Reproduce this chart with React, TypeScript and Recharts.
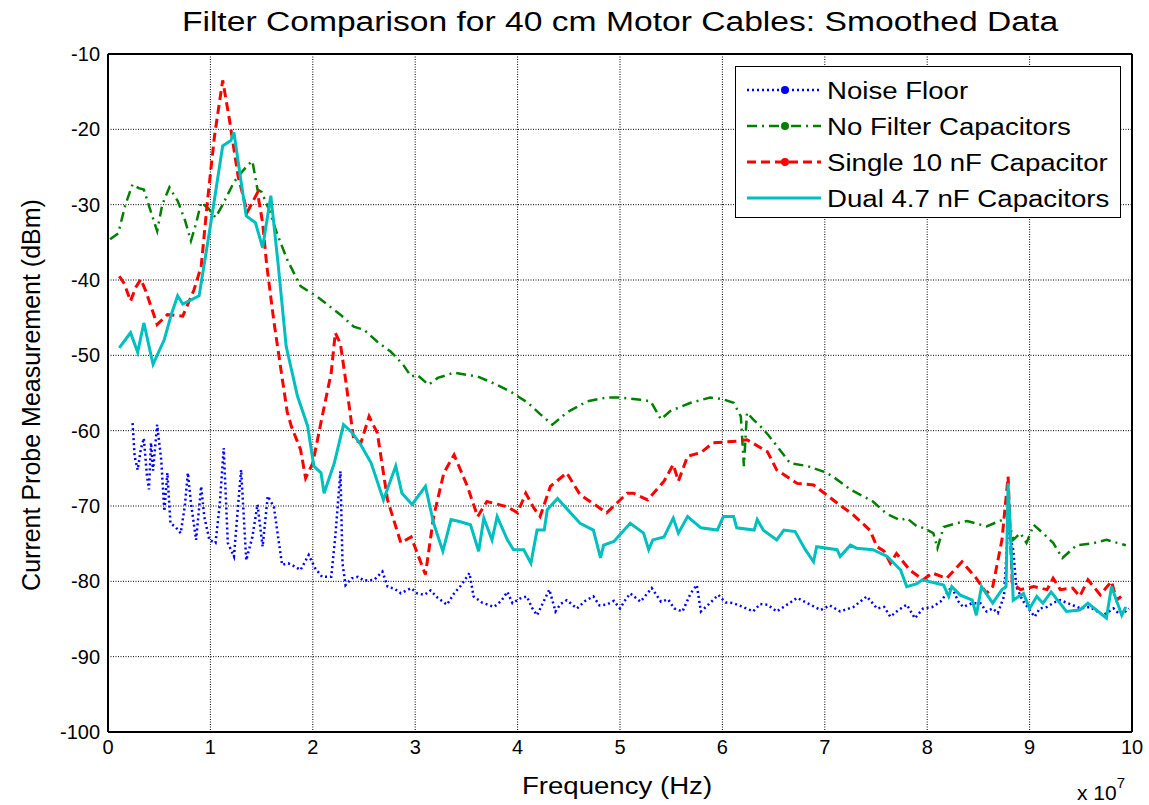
import { LineChart, Line, XAxis, YAxis, CartesianGrid, ReferenceLine } from 'recharts';

// Frequency in units of 1e7 Hz, level in dBm
const noiseFloor: [number, number][] = [
  [0.24, -59], [0.26, -63.4], [0.29, -65.2], [0.32, -62.5], [0.35, -61], [0.38, -66], [0.4, -67.8],
  [0.42, -61.6], [0.44, -65.3], [0.48, -59.2], [0.52, -63.9], [0.55, -70.7], [0.58, -65.6], [0.61, -72.3],
  [0.66, -72.8], [0.71, -73.6], [0.75, -70], [0.78, -65.6], [0.81, -69.6], [0.86, -74.5], [0.91, -67.4],
  [0.94, -71.4], [0.99, -74.5], [1.05, -74.9], [1.09, -70], [1.13, -62.3], [1.17, -74.9], [1.23, -76.7],
  [1.27, -70], [1.3, -65.2], [1.35, -77.2], [1.41, -74.1], [1.46, -69.8], [1.51, -75.4], [1.56, -68.7],
  [1.62, -70.1], [1.66, -74], [1.7, -77.8], [1.76, -77.6], [1.82, -78], [1.88, -78.5], [1.96, -76.5],
  [2.02, -78.2], [2.09, -79.4], [2.18, -79.4], [2.22, -74], [2.27, -65.4], [2.29, -77.6], [2.32, -80.5],
  [2.38, -79.6], [2.44, -79.4], [2.5, -79.9], [2.6, -79.8], [2.68, -78.7], [2.73, -80.7], [2.8, -81],
  [2.86, -81.6], [2.96, -80.9], [3.02, -81.6], [3.09, -81.8], [3.15, -81.2], [3.22, -82.2], [3.31, -83.1],
  [3.38, -81.6], [3.45, -80.5], [3.53, -78.9], [3.57, -82], [3.65, -82.8], [3.77, -83.4], [3.84, -82.6],
  [3.9, -81.4], [3.95, -82.9], [4.02, -82.3], [4.09, -82], [4.14, -83.5], [4.19, -84.5], [4.25, -82.8],
  [4.31, -81.1], [4.37, -84], [4.42, -83], [4.48, -82.5], [4.58, -83.6], [4.66, -82.6], [4.74, -82],
  [4.8, -83.2], [4.87, -83.1], [4.94, -82.6], [5.0, -83.6], [5.05, -82.5], [5.1, -81.6], [5.2, -82.7],
  [5.31, -80.9], [5.4, -82.7], [5.47, -82.4], [5.53, -83.6], [5.61, -84], [5.69, -81.6], [5.75, -80.5],
  [5.79, -84], [5.87, -83], [5.96, -81.8], [6.03, -82.8], [6.11, -82.9], [6.2, -83.4], [6.3, -84],
  [6.37, -83], [6.44, -83.1], [6.53, -84], [6.62, -83.2], [6.73, -82.2], [6.83, -82.9], [6.96, -83.8],
  [7.05, -83.2], [7.15, -84], [7.28, -83.4], [7.41, -82], [7.51, -83.6], [7.58, -83.4], [7.64, -84.7],
  [7.72, -83.8], [7.8, -83.1], [7.88, -84.9], [7.96, -83.6], [8.05, -83.4], [8.13, -82.7], [8.24, -80.7],
  [8.3, -82.6], [8.35, -83.4], [8.44, -82.9], [8.52, -82.9], [8.58, -84], [8.64, -83.6], [8.69, -84.2],
  [8.75, -82], [8.79, -72.7], [8.84, -75.8], [8.87, -80.7], [8.93, -82.5], [9.0, -83.8], [9.05, -84.7],
  [9.1, -83.6], [9.17, -83.4], [9.24, -82.8], [9.3, -82.5], [9.41, -83.1], [9.5, -83.6], [9.59, -83.4],
  [9.66, -84], [9.72, -84.5], [9.82, -83.6], [9.88, -84.4], [9.92, -84.2], [9.97, -83.6],
];

const noFilter: [number, number][] = [
  [0.02, -34.6], [0.1, -33.8], [0.17, -30], [0.24, -27.3], [0.3, -27.8], [0.35, -28], [0.42, -31],
  [0.48, -33.5], [0.53, -30], [0.6, -27.7], [0.68, -29.5], [0.75, -32], [0.81, -34.8], [0.86, -32.5],
  [0.91, -29.7], [0.98, -30.5], [1.05, -31.7], [1.12, -30], [1.23, -27], [1.3, -25.8], [1.36, -24.8],
  [1.41, -24.2], [1.46, -28], [1.5, -28.3], [1.57, -30.6], [1.65, -33.8], [1.75, -37.3], [1.88, -40.8],
  [2.05, -42.3], [2.27, -44.6], [2.4, -46.2], [2.5, -46.6], [2.63, -48.2], [2.76, -49.5], [2.88, -51.2],
  [2.96, -52.8], [3.02, -52.6], [3.13, -53.9], [3.22, -53], [3.38, -52.3], [3.5, -52.6], [3.61, -52.8],
  [3.78, -53.8], [3.93, -54.8], [4.1, -56.3], [4.22, -57.8], [4.34, -59.2], [4.48, -57.6], [4.68, -56.1],
  [4.87, -55.6], [5.0, -55.6], [5.2, -55.9], [5.3, -56.1], [5.4, -58.5], [5.49, -57.4], [5.69, -56.3],
  [5.88, -55.6], [6.0, -55.8], [6.11, -56.3], [6.18, -58.1], [6.21, -64.7], [6.24, -57.6], [6.3, -58.5],
  [6.37, -59.4], [6.45, -60.6], [6.53, -62], [6.66, -64.3], [6.83, -64.7], [7.02, -65.6], [7.1, -66.3],
  [7.25, -67.8], [7.47, -69.4], [7.6, -71], [7.74, -71.9], [7.8, -71.6], [7.9, -72.7], [7.96, -72.9],
  [8.06, -73.6], [8.1, -75.6], [8.16, -72.8], [8.28, -72.3], [8.39, -72], [8.58, -72.7], [8.74, -71.8],
  [8.79, -71.5], [8.84, -74.5], [8.91, -73.6], [8.97, -74.9], [9.04, -72.5], [9.13, -73.6], [9.23, -74.9],
  [9.32, -76.9], [9.46, -75.2], [9.6, -75], [9.75, -74.5], [9.94, -75.2],
];

const single10nF: [number, number][] = [
  [0.11, -39.5], [0.16, -40.5], [0.22, -42.8], [0.27, -41], [0.32, -39.9], [0.37, -41.5], [0.42, -43.5],
  [0.48, -45.9], [0.58, -44.6], [0.73, -44.8], [0.84, -41.3], [0.91, -38.2], [0.97, -29.7], [1.04, -20.9],
  [1.12, -13.5], [1.18, -18.2], [1.27, -26.2], [1.36, -31], [1.46, -28.4], [1.51, -32.4], [1.55, -38],
  [1.62, -45.5], [1.69, -52], [1.75, -57.5], [1.79, -59.4], [1.88, -62.5], [1.93, -66.3], [2.0, -64.3],
  [2.08, -58.9], [2.18, -52.3], [2.22, -47], [2.27, -48.5], [2.32, -53.2], [2.4, -61.2], [2.47, -61.6],
  [2.55, -58.1], [2.63, -60.3], [2.73, -69.2], [2.86, -74.9], [2.96, -74.1], [3.1, -79.1], [3.18, -71.4],
  [3.28, -65.6], [3.38, -63.2], [3.51, -67.4], [3.61, -71.4], [3.7, -69.4], [3.9, -70.1], [4.0, -70.9],
  [4.08, -68.3], [4.16, -70.3], [4.22, -71.4], [4.32, -67.4], [4.48, -65.6], [4.61, -68.5], [4.87, -70.9],
  [4.97, -69.6], [5.07, -68.3], [5.13, -68.3], [5.27, -69.2], [5.43, -66.7], [5.52, -64.5], [5.57, -66.7],
  [5.66, -63.4], [5.79, -62.9], [5.91, -61.6], [6.14, -61.4], [6.24, -61.2], [6.44, -62.8], [6.53, -65.2],
  [6.73, -67], [6.89, -67.2], [7.12, -69.6], [7.28, -71.2], [7.44, -73.2], [7.51, -75.4], [7.58, -76],
  [7.64, -77.6], [7.7, -76.3], [7.83, -78.5], [7.96, -79.8], [8.05, -78.9], [8.19, -79.6], [8.34, -77.4],
  [8.48, -79.6], [8.58, -81.6], [8.64, -80.7], [8.73, -74.5], [8.79, -66.1], [8.83, -80.2], [8.91, -81.1],
  [9.04, -80.7], [9.17, -81.1], [9.23, -79.6], [9.3, -81.1], [9.42, -80.9], [9.49, -82], [9.57, -79.8],
  [9.69, -81.8], [9.8, -80], [9.85, -82.5], [9.93, -81.6],
];

const dual47nF: [number, number][] = [
  [0.11, -49], [0.22, -47], [0.29, -49.6], [0.35, -45.7], [0.44, -51.2], [0.55, -47.9], [0.62, -44.5],
  [0.68, -42.1], [0.73, -43.2], [0.89, -42.1], [1.0, -32.8], [1.12, -22.2], [1.2, -21.5], [1.23, -20.4],
  [1.3, -27], [1.35, -31.5], [1.44, -32.4], [1.51, -35.7], [1.59, -28.8], [1.66, -37.7], [1.74, -48.8],
  [1.85, -55.4], [1.95, -59.4], [2.01, -64.7], [2.08, -65.6], [2.11, -68.3], [2.21, -64.3], [2.3, -59.2],
  [2.38, -60.2], [2.47, -61.9], [2.57, -64.3], [2.69, -69.2], [2.81, -64.7], [2.87, -68.3], [2.97, -69.8],
  [3.1, -67.4], [3.18, -72.3], [3.27, -76], [3.35, -71.8], [3.44, -72.1], [3.54, -72.5], [3.62, -76],
  [3.67, -71.6], [3.75, -74.5], [3.8, -71.4], [3.9, -74.5], [3.96, -75.8], [4.06, -75.8], [4.13, -77.6],
  [4.19, -73.2], [4.26, -73.2], [4.29, -70.5], [4.39, -69], [4.61, -72.3], [4.74, -73.2], [4.81, -76.9],
  [4.84, -75.2], [4.94, -74.7], [5.1, -72.3], [5.23, -73.6], [5.28, -75.8], [5.32, -74.5], [5.43, -74.1],
  [5.52, -71.6], [5.57, -73.6], [5.66, -71.4], [5.79, -72.9], [5.95, -73.2], [6.01, -71.4], [6.11, -71.4],
  [6.14, -72.9], [6.31, -73.2], [6.34, -71.8], [6.4, -73.2], [6.53, -74.5], [6.6, -73.2], [6.71, -73.4],
  [6.81, -75.8], [6.89, -77.4], [6.92, -75.4], [7.12, -75.8], [7.15, -76.7], [7.25, -75.2], [7.31, -75.6],
  [7.47, -75.8], [7.61, -76.7], [7.74, -78.5], [7.8, -80.7], [7.9, -80.3], [7.95, -79.8], [8.16, -80.5],
  [8.21, -82], [8.24, -80.7], [8.32, -81.8], [8.44, -82.5], [8.48, -84.5], [8.53, -80.7], [8.64, -82.9],
  [8.73, -81.1], [8.77, -80.7], [8.79, -67], [8.83, -78.9], [8.84, -82.5], [8.94, -81.6], [9.0, -83.6],
  [9.07, -82], [9.13, -82.9], [9.21, -81.4], [9.36, -84], [9.49, -83.8], [9.57, -82.9], [9.75, -84.9],
  [9.8, -80.7], [9.9, -84.5], [9.94, -83.4],
];

const xTicks = [0, 1, 2, 3, 4, 5, 6, 7, 8, 9, 10];
const yTicks = [-100, -90, -80, -70, -60, -50, -40, -30, -20, -10];

const FONT = '"Liberation Sans", Arial, sans-serif';
const TICK = { fill: '#000', fontSize: 20, fontFamily: FONT };

const toRows = (pts: [number, number][]) => pts.map(([x, y]) => ({ x, y }));

const SERIES = [
  { name: 'Noise Floor', pts: noiseFloor, color: '#0000ff', dash: '2 3', width: 2.5, dot: true },
  { name: 'No Filter Capacitors', pts: noFilter, color: '#008000', dash: '10 5 2 5', width: 2.5, dot: true },
  { name: 'Single 10 nF Capacitor', pts: single10nF, color: '#ff0000', dash: '9 5', width: 3, dot: true },
  { name: 'Dual 4.7 nF Capacitors', pts: dual47nF, color: '#00bfbf', dash: undefined, width: 3, dot: false },
];

function LegendBox() {
  return (
    <div
      style={{
        position: 'absolute', left: 735, top: 66, width: 386, height: 152,
        border: '1.5px solid #000', background: '#fff', boxSizing: 'border-box',
      }}
    >
      {SERIES.map((s, i) => (
        <div key={s.name} style={{ position: 'absolute', left: 0, top: 13 + i * 36, height: 24, width: '100%' }}>
          <svg width={80} height={20} style={{ position: 'absolute', left: 9, top: 0 }}>
            <line x1={2} y1={10} x2={76} y2={10} stroke={s.color} strokeWidth={s.width} strokeDasharray={s.dash} />
            {s.dot ? <circle cx={40} cy={10} r={4} fill={s.color} /> : null}
          </svg>
          <span
            style={{
              position: 'absolute', left: 91, top: 0, fontSize: 23, fontFamily: FONT,
              lineHeight: '23px', whiteSpace: 'nowrap', color: '#000',
              transform: 'scaleX(1.2)', transformOrigin: 'left center',
            }}
          >
            {s.name}
          </span>
        </div>
      ))}
    </div>
  );
}

export default function App() {
  return (
    <div style={{ position: 'absolute', left: 0, top: 0, width: 1149, height: 805, background: '#fff', fontFamily: FONT }}>
      <LineChart width={1149} height={805} margin={{ top: 54, right: 17, bottom: 43, left: 0 }}>
        <CartesianGrid stroke="#000" strokeDasharray="1 1.5" strokeWidth={1} />
        <XAxis
          type="number"
          dataKey="x"
          domain={[0, 10]}
          ticks={xTicks}
          allowDataOverflow
          height={30}
          tick={TICK}
          tickLine={false}
          axisLine={{ stroke: '#000', strokeWidth: 2 }}
        />
        <YAxis
          type="number"
          dataKey="y"
          domain={[-100, -10]}
          ticks={yTicks}
          allowDataOverflow
          width={108}
          tick={TICK}
          tickLine={false}
          axisLine={{ stroke: '#000', strokeWidth: 2 }}
        />
        <ReferenceLine y={-10} stroke="#000" strokeWidth={2} />
        <ReferenceLine x={10} stroke="#000" strokeWidth={2} />
        {SERIES.map((s) => (
          <Line
            key={s.name}
            data={toRows(s.pts)}
            dataKey="y"
            name={s.name}
            type="linear"
            stroke={s.color}
            strokeWidth={s.width}
            strokeDasharray={s.dash}
            dot={false}
            activeDot={false}
            isAnimationActive={false}
          />
        ))}
      </LineChart>

      <div
        style={{
          position: 'absolute', left: 0, top: 9, width: 1240, textAlign: 'center', fontSize: 27,
          lineHeight: '27px', color: '#000', transform: 'scaleX(1.245)', transformOrigin: '620px 0',
          whiteSpace: 'nowrap',
        }}
      >
        Filter Comparison for 40 cm Motor Cables: Smoothed Data
      </div>
      <div
        style={{
          position: 'absolute', left: 31, top: 395, transform: 'translate(-50%, -50%) rotate(-90deg)',
          fontSize: 25, lineHeight: '25px', whiteSpace: 'nowrap', color: '#000',
        }}
      >
        Current Probe Measurement (dBm)
      </div>
      <div
        style={{
          position: 'absolute', left: 0, top: 775, width: 1234, textAlign: 'center', fontSize: 23,
          lineHeight: '23px', color: '#000', transform: 'scaleX(1.2)', transformOrigin: '617px 0',
          whiteSpace: 'nowrap',
        }}
      >
        Frequency (Hz)
      </div>
      <div style={{ position: 'absolute', left: 1077, top: 782, fontSize: 21, lineHeight: '21px', color: '#000', whiteSpace: 'nowrap' }}>
        x 10<span style={{ fontSize: 15, position: 'relative', top: -12 }}>7</span>
      </div>
      <LegendBox />
    </div>
  );
}
